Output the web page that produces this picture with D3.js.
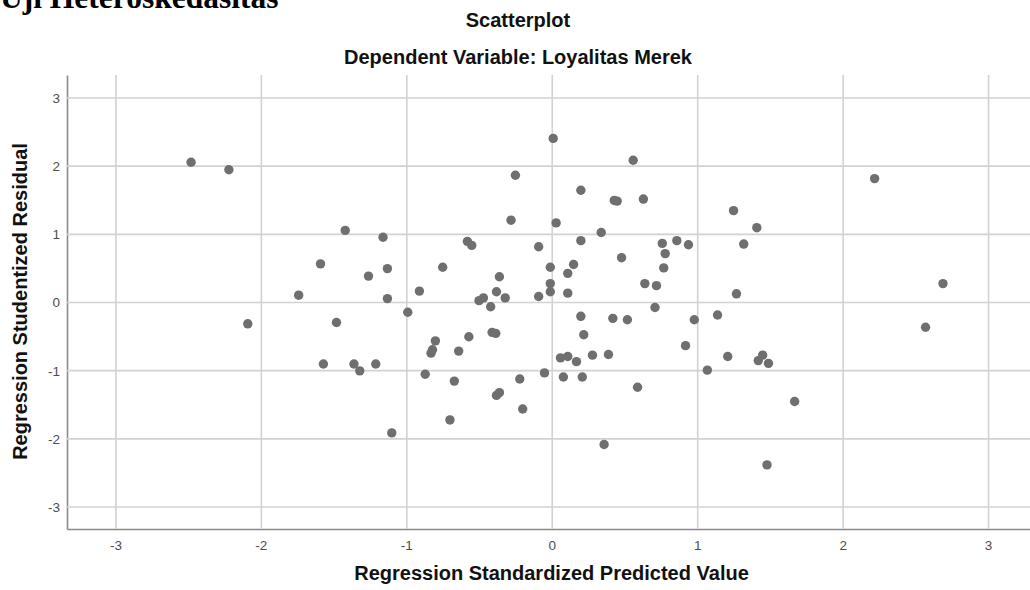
<!DOCTYPE html>
<html>
<head>
<meta charset="utf-8">
<script src="https://cdn.jsdelivr.net/npm/d3@7/dist/d3.min.js"></script>
<style>
  html, body { margin: 0; padding: 0; background: #ffffff; }
  svg { display: block; }
</style>
</head>
<body>
<svg id="chart" width="1030" height="590"></svg>
<script>
// ---- Data ----
const predicted = [
  -2.48, -2.22, -1.42, -1.59, -1.74, -2.09, -1.48, -1.57, -1.16, -1.26,
  -1.13, -1.13, -0.99, -0.91, -0.75, -0.58, -0.55, -0.28, -0.25, 0.01,
  0.03, -0.09, -0.01, -0.01, -0.01, -0.09, -0.36, -0.38, -0.32, -0.50,
  -0.47, -0.42, 0.11, 0.15, 0.11, 0.20, 0.20, 0.34, 0.43, 0.45,
  0.56, 0.63, 0.48, 0.64, 0.72, 0.71, 0.76, 0.78, 0.77, 0.86,
  0.94, 1.25, 1.41, 1.32, 1.27, 1.14, 2.22, 2.69, 0.98, 0.92,
  1.21, 1.42, 1.45, 1.49, 1.07, 1.67, 1.48, 2.57, 0.20, 0.42,
  0.52, 0.22, -0.41, -0.385, -0.57, -0.80, -0.82, -0.83, -0.64, -0.87,
  -0.67, -0.70, -1.10, -1.36, -1.32, -1.21, -0.22, -0.20, -0.38, -0.36,
  -0.05, 0.06, 0.11, 0.17, 0.08, 0.21, 0.28, 0.39, 0.59, 0.36
];
const residual = [
  2.05, 1.94, 1.05, 0.56, 0.10, -0.32, -0.30, -0.91, 0.95, 0.38,
  0.49, 0.05, -0.15, 0.16, 0.51, 0.89, 0.83, 1.20, 1.86, 2.40,
  1.16, 0.81, 0.51, 0.27, 0.15, 0.08, 0.37, 0.15, 0.06, 0.02,
  0.06, -0.07, 0.42, 0.55, 0.13, 0.90, 1.64, 1.02, 1.49, 1.48,
  2.08, 1.51, 0.65, 0.27, 0.24, -0.08, 0.86, 0.71, 0.50, 0.90,
  0.84, 1.34, 1.09, 0.85, 0.12, -0.19, 1.81, 0.27, -0.26, -0.64,
  -0.80, -0.86, -0.78, -0.90, -1.00, -1.46, -2.39, -0.37, -0.21, -0.24,
  -0.26, -0.48, -0.445, -0.46, -0.51, -0.57, -0.70, -0.75, -0.72, -1.06,
  -1.16, -1.73, -1.92, -0.91, -1.01, -0.91, -1.13, -1.57, -1.37, -1.33,
  -1.04, -0.82, -0.80, -0.875, -1.10, -1.10, -0.78, -0.77, -1.25, -2.09
];
const xTicks = [-3, -2, -1, 0, 1, 2, 3];
const yTicks = [3, 2, 1, 0, -1, -2, -3];
const pageTitle = "Uji Heteroskedasitas";
const chartTitle = "Scatterplot";
const chartSubtitle = "Dependent Variable: Loyalitas Merek";
const xTitle = "Regression Standardized Predicted Value";
const yTitle = "Regression Studentized Residual";

// ---- Layout ----
const svg = d3.select("#chart");
const plot = { left: 67, right: 1036.5, top: 75, bottom: 529 };

const x = d3.scaleLinear().domain([-3.333, 3.333]).range([plot.left, plot.right]);
const y = d3.scaleLinear().domain([-3.33, 3.33]).range([plot.bottom, plot.top]);

const sans = "'Liberation Sans', Arial, Helvetica, sans-serif";

// Gridlines + axes
const xAxis = d3.axisBottom(x)
  .tickValues(xTicks)
  .tickSize(-(plot.bottom - plot.top))
  .tickSizeOuter(0)
  .tickFormat(d => String(d));
const yAxis = d3.axisLeft(y)
  .tickValues(yTicks)
  .tickSize(-(plot.right - plot.left))
  .tickSizeOuter(0)
  .tickFormat(d => String(d));

const gx = svg.append("g")
  .attr("transform", `translate(0,${plot.bottom})`)
  .call(xAxis);
const gy = svg.append("g")
  .attr("transform", `translate(${plot.left},0)`)
  .call(yAxis);

[gx, gy].forEach(g => {
  g.selectAll(".tick line").attr("stroke", "#d2d2d2").attr("stroke-width", 1.6);
  g.select(".domain").attr("stroke", "#8a8a8a").attr("stroke-width", 1.6);
  g.selectAll(".tick text")
    .attr("fill", "#4d4d4d")
    .style("font-family", sans)
    .style("font-size", "13.5px");
});
gx.selectAll(".tick text").attr("y", 21).attr("dy", 0);
gy.selectAll(".tick text").attr("x", -7).attr("dy", "0.36em");

// Points
svg.append("g")
  .selectAll("circle")
  .data(predicted.map((p, i) => [p, residual[i]]))
  .join("circle")
  .attr("cx", d => x(d[0]))
  .attr("cy", d => y(d[1]))
  .attr("r", 4.7)
  .attr("fill", "#6f6f6f");

// Titles
svg.append("text")
  .attr("x", 0).attr("y", 7.5)
  .style("font-family", "'Liberation Serif', 'Times New Roman', serif")
  .style("font-weight", "bold")
  .style("font-size", "31.5px")
  .attr("fill", "#000")
  .text(pageTitle);

svg.append("text")
  .attr("x", 518).attr("y", 27)
  .attr("text-anchor", "middle")
  .style("font-family", sans)
  .style("font-weight", "bold")
  .style("font-size", "20px")
  .attr("fill", "#111")
  .text(chartTitle);

svg.append("text")
  .attr("x", 518).attr("y", 64)
  .attr("text-anchor", "middle")
  .style("font-family", sans)
  .style("font-weight", "bold")
  .style("font-size", "20px")
  .attr("fill", "#111")
  .text(chartSubtitle);

svg.append("text")
  .attr("x", 551.5).attr("y", 580)
  .attr("text-anchor", "middle")
  .style("font-family", sans)
  .style("font-weight", "bold")
  .style("font-size", "20px")
  .attr("fill", "#111")
  .text(xTitle);

svg.append("text")
  .attr("transform", "translate(27,301.5) rotate(-90)")
  .attr("text-anchor", "middle")
  .style("font-family", sans)
  .style("font-weight", "bold")
  .style("font-size", "20px")
  .attr("fill", "#111")
  .text(yTitle);
</script>
</body>
</html>
